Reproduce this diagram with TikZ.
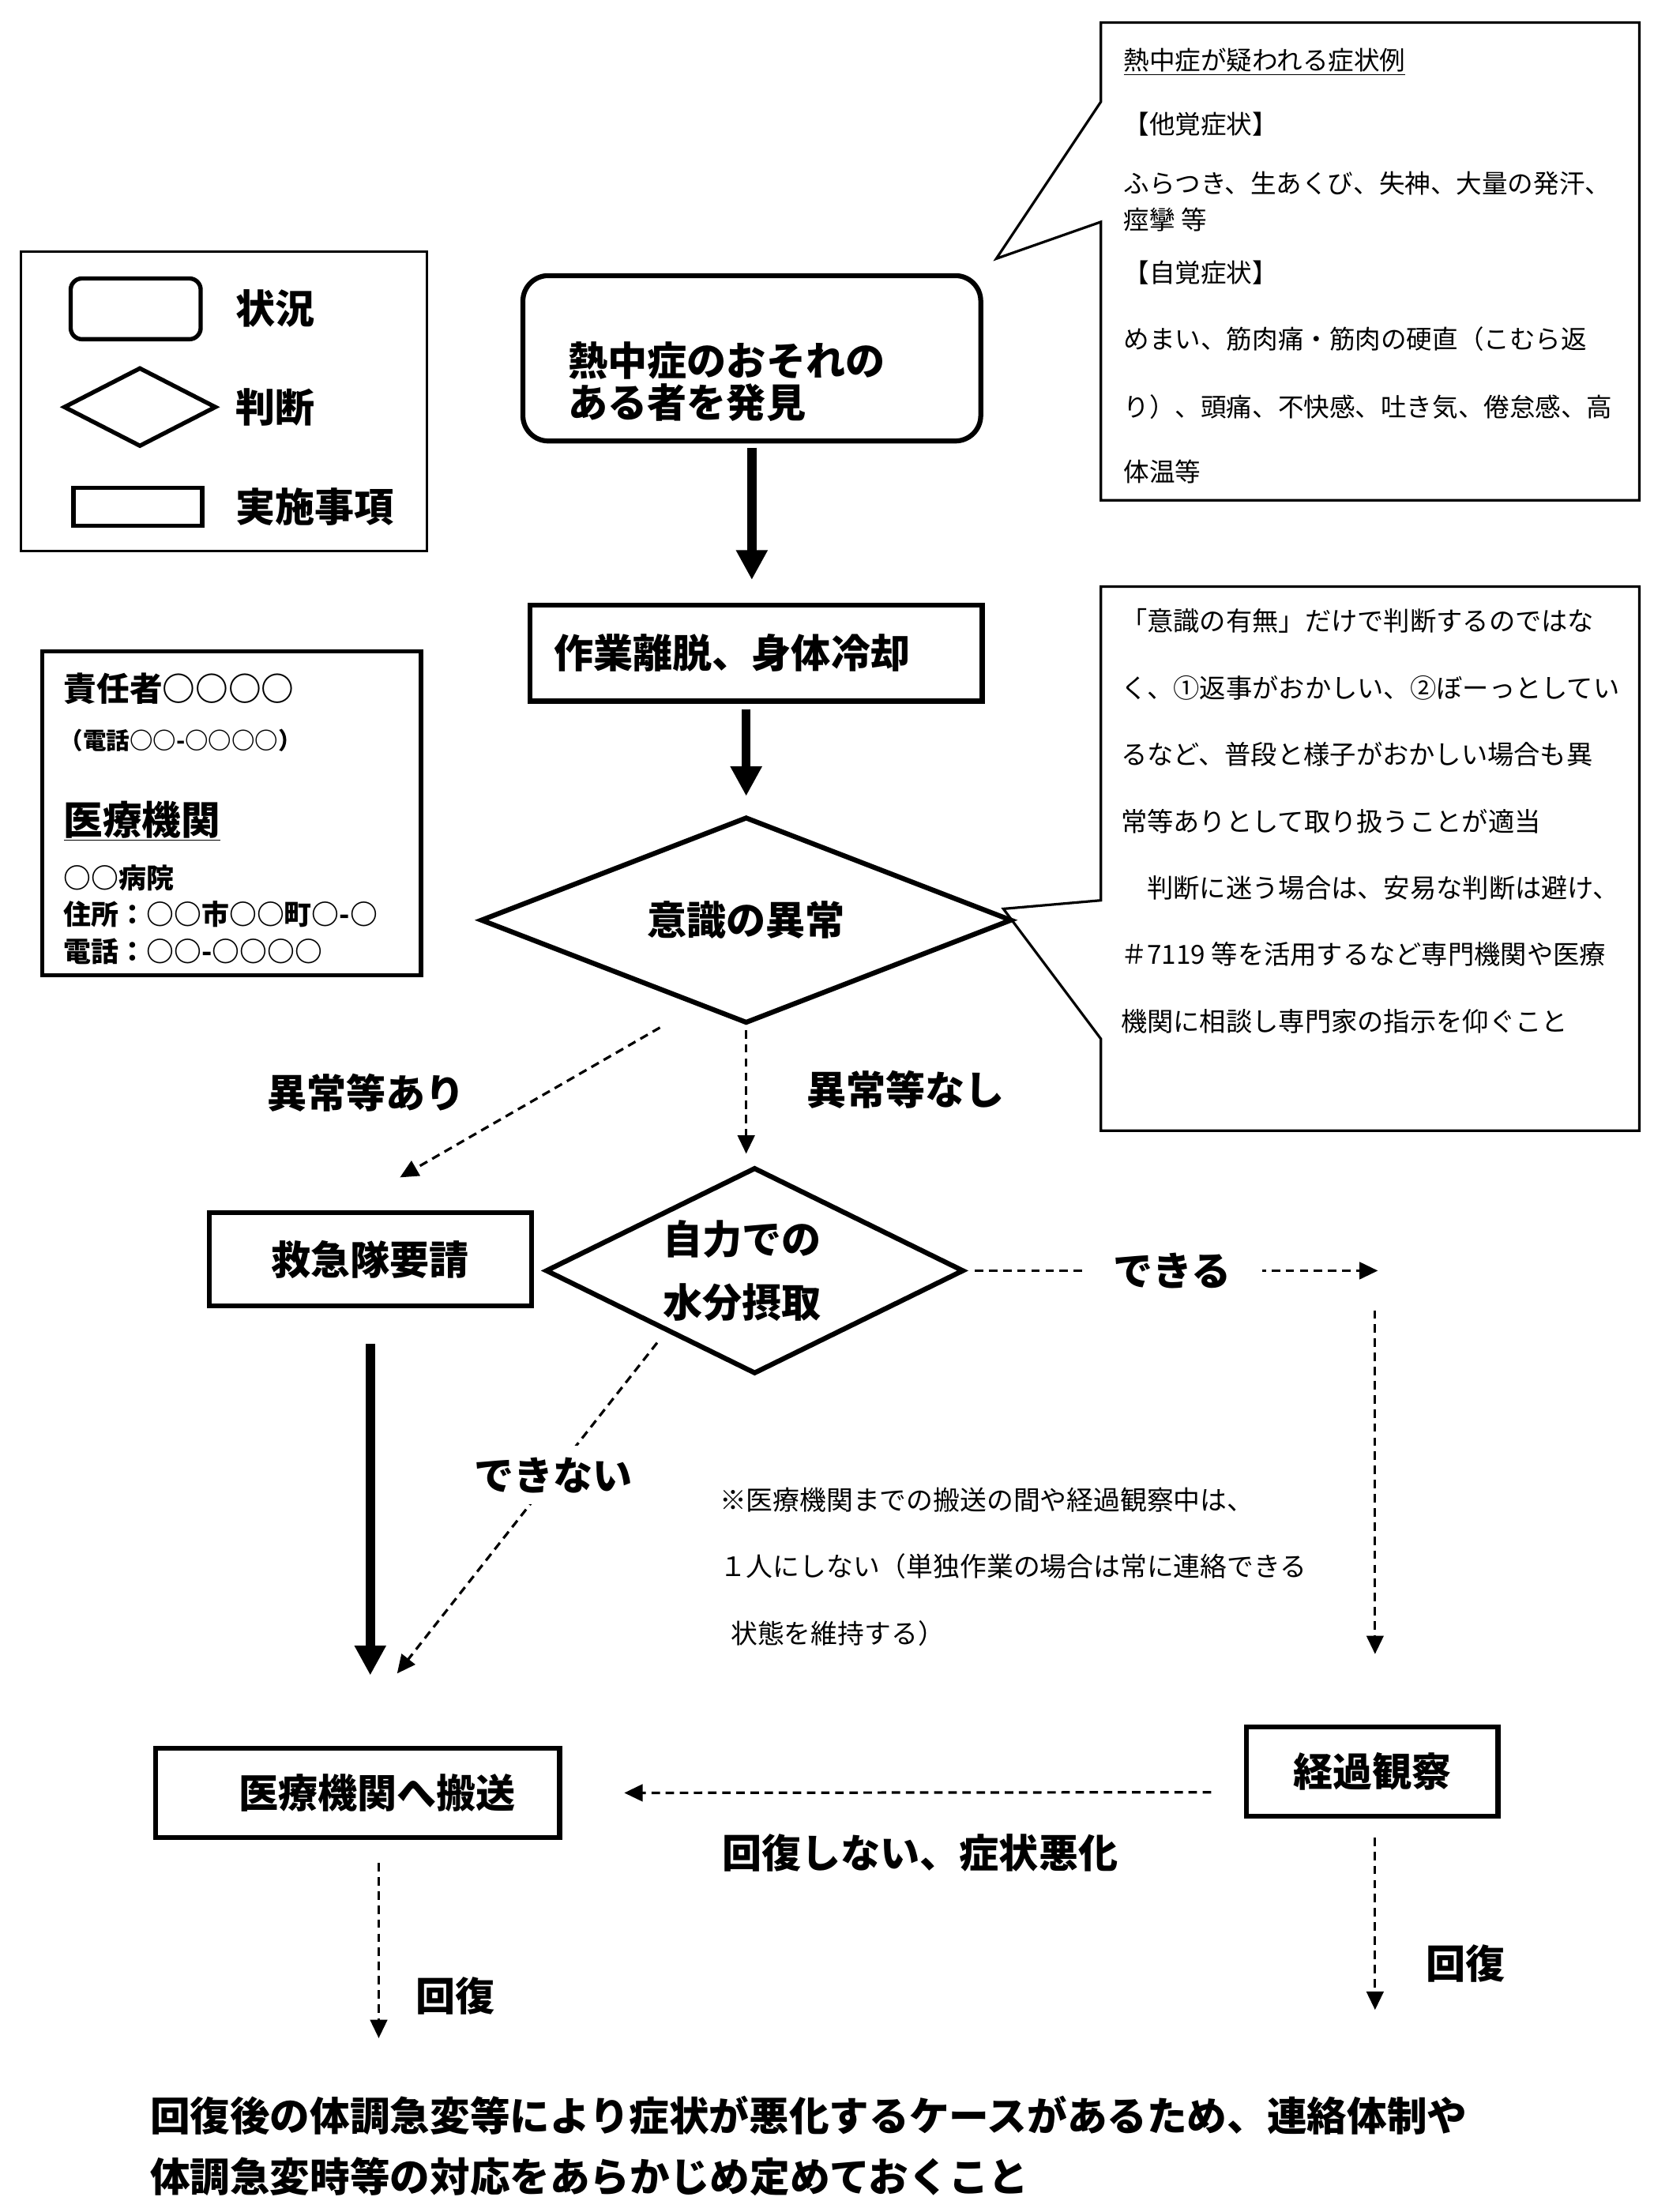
\documentclass[tikz,border=0pt]{standalone}
\usepackage{fontspec}
\setmainfont{Noto Sans CJK JP}
\usetikzlibrary{arrows.meta,shapes.geometric,positioning}

\newcommand{\fbig}{\fontsize{28}{30}\selectfont\bfseries}
\newcommand{\fmid}{\fontsize{19.5}{26}\selectfont\bfseries}
\newcommand{\fsmall}{\fontsize{18.2}{26}\selectfont}
\newcommand{\fcons}{\fontsize{18.6}{47.2}\selectfont}
\newcommand{\fnote}{\fontsize{18.9}{47}\selectfont}
\newcommand{\fbottom}{\fontsize{28.3}{43}\selectfont\bfseries}

\begin{document}
\begin{tikzpicture}[x=1pt,y=-1pt,font=\fbig,
	every node/.style={inner sep=0pt},
	situation/.style={draw,line width=3.5pt,rounded corners=18pt},
	decision/.style={draw,diamond,aspect=2.5,line width=3.5pt},
	action/.style={draw,line width=3.5pt},
	flow/.style={line width=6.5pt,-{Triangle[length=21pt,width=21pt]}},
	dflow/.style={line width=1.8pt,dash pattern=on 6pt off 4pt,-{Triangle[length=13pt,width=12pt]}},
	callout/.style={line width=1.8pt,line join=miter}]

	\useasboundingbox (0,0) rectangle (1170,1565);

	% legend
	\node[draw,line width=1.6pt,minimum width=287pt,minimum height=212pt] (legend) at (158.5,284) {};
	\node[situation,line width=3pt,rounded corners=8pt,minimum width=92pt,minimum height=43pt] (lgsit) at (96,218.5) {};
	\node (lgsittxt) [right=23pt of lgsit] {状況};
	\node[decision,line width=3pt,minimum width=108pt,minimum height=56pt] (lgdec) at (99,288) {};
	\node (lgdectxt) [right=12pt of lgdec] {判断};
	\node[action,line width=3pt,minimum width=91pt,minimum height=27pt] (lgact) at (97.5,358.5) {};
	\node (lgacttxt) [right=22pt of lgact] {実施事項};

	% contacts
	\node[draw,line width=3pt,minimum width=268pt,minimum height=229pt] (contact) at (164,575.5) {};
	\node[anchor=west,font=\fontsize{23.3}{26}\selectfont\bfseries] (boss) at (45,487) {責任者○○○○};
	\node[anchor=west,font=\fontsize{16.5}{18}\selectfont\bfseries] (bosstel) at (42,524) {（電話○○-○○○○）};
	\node[anchor=base west,font=\fontsize{27.7}{30}\selectfont\bfseries] (hosptitle) at (45,590.5) {\underline{医療機関}};
	\node[anchor=west,font=\fmid] (hospname) at (45,621) {○○病院};
	\node[anchor=west,font=\fmid] (hospaddr) at (45,647) {住所：○○市○○町○-○};
	\node[anchor=west,font=\fmid] (hosptel) at (45,673) {電話：○○-○○○○};

	% callouts
	\draw[callout] (779,72) -- (779,16) -- (1160,16) -- (1160,354) -- (779,354) -- (779,157) -- (705,183) -- cycle;
	\node[anchor=north west,font=\fsmall,align=left] (signs) at (795,34) {\underline{熱中症が疑われる症状例}\\[19pt]【他覚症状】\\[16pt]ふらつき、生あくび、失神、大量の発汗、\\痙攣 等\\[11pt]【自覚症状】\\[21pt]めまい、筋肉痛・筋肉の硬直（こむら返\\[22pt]り）、頭痛、不快感、吐き気、倦怠感、高\\[20pt]体温等};
	\draw[callout] (779,637) -- (779,415) -- (1160,415) -- (1160,800) -- (779,800) -- (779,735) -- (710,643) -- cycle;
	\node[anchor=north west,font=\fcons,align=left] (conscious) at (793,430.5) {「意識の有無」だけで判断するのではな\\く、①返事がおかしい、②ぼーっとしてい\\るなど、普段と様子がおかしい場合も異\\常等ありとして取り扱うことが適当\\　判断に迷う場合は、安易な判断は避け、\\＃7119 等を活用するなど専門機関や医療\\機関に相談し専門家の指示を仰ぐこと};

	% flow
	\node[situation,minimum width=324pt,minimum height=117pt] (find) at (532,253.5) {};
	\node[anchor=west,align=left] (findtxt) at (402,270) {熱中症のおそれの\\ある者を発見};
	\node[action,minimum width=320pt,minimum height=68pt,text width=286pt,inner xsep=17pt,align=left] (cool) at (535,462) {作業離脱、身体冷却};
	\node[decision,minimum width=376pt,minimum height=146pt] (aware) at (528,651) {意識の異常};
	\node[action,minimum width=228pt,minimum height=66pt] (call) at (262,891) {救急隊要請};
	\node[decision,aspect=2,minimum width=296pt,minimum height=146pt,align=center,font=\fontsize{28}{45}\selectfont\bfseries] (water) at (534,899) {自力での\hspace*{18pt}\\水分摂取\hspace*{18pt}};
	\node[action,minimum width=286pt,minimum height=63pt] (hosp) at (253,1268.5) {\hspace*{28pt}医療機関へ搬送};
	\node[action,minimum width=178pt,minimum height=63pt] (watch) at (971,1253.5) {経過観察};

	\coordinate (a1) at (467,727);
	\coordinate (a2) at (283,833);
	\coordinate (turn) at (975,899);
	\coordinate (down) at (973,927);
	\coordinate (b1) at (465,950);
	\coordinate (b2) at (281,1184);
	\coordinate (w1) at (857,1268);
	\coordinate (r1) at (268,1318);
	\coordinate (r2) at (268,1442);
	\coordinate (r3) at (973,1300);
	\coordinate (r4) at (973,1422);

	\draw[flow,shorten <=3pt,shorten >=16pt] (find.south) -- (find.south |- cool.north);
	\draw[flow,shorten <=4pt,shorten >=13pt] (aware.north |- cool.south) -- (aware.north);
	\draw[dflow] (a1) -- (a2);
	\node (abn) at (259,773) {異常等あり};
	\draw[dflow,shorten <=3pt,shorten >=8pt] (aware.south) -- (aware.south |- water.north);
	\node (noabn) at (641,771) {異常等なし};
	\draw[dflow,shorten <=6pt] (water.east) -- (turn) node[pos=0.5,fill=white,inner xsep=22pt,inner ysep=4pt] {できる};
	\draw[dflow,shorten >=50pt] (down) -- (down |- watch.north);
	\draw[dflow] (b1) -- (b2) node[pos=0.4,fill=white,inner ysep=8pt] {できない};
	\draw[flow,shorten <=25pt,shorten >=50pt] (call.south) -- (call.south |- hosp.north);
	\draw[dflow,shorten >=44pt] (w1) -- (hosp.east);
	\node (worse) at (651,1311) {回復しない、症状悪化};
	\draw[dflow] (r1) -- (r2);
	\node (rec1) at (322,1412) {回復};
	\draw[dflow] (r3) -- (r4);
	\node (rec2) at (1037,1389) {回復};

	% notes
	\node[anchor=north west,font=\fnote,align=left] (alone) at (509,1052.5) {※医療機関までの搬送の間や経過観察中は、\\１人にしない（単独作業の場合は常に連絡できる\\\hspace*{8pt}状態を維持する）};
	\node[anchor=west,align=left,font=\fbottom] (memo) at (106,1518.5) {回復後の体調急変等により症状が悪化するケースがあるため、連絡体制や\\体調急変時等の対応をあらかじめ定めておくこと};

\end{tikzpicture}
\end{document}
